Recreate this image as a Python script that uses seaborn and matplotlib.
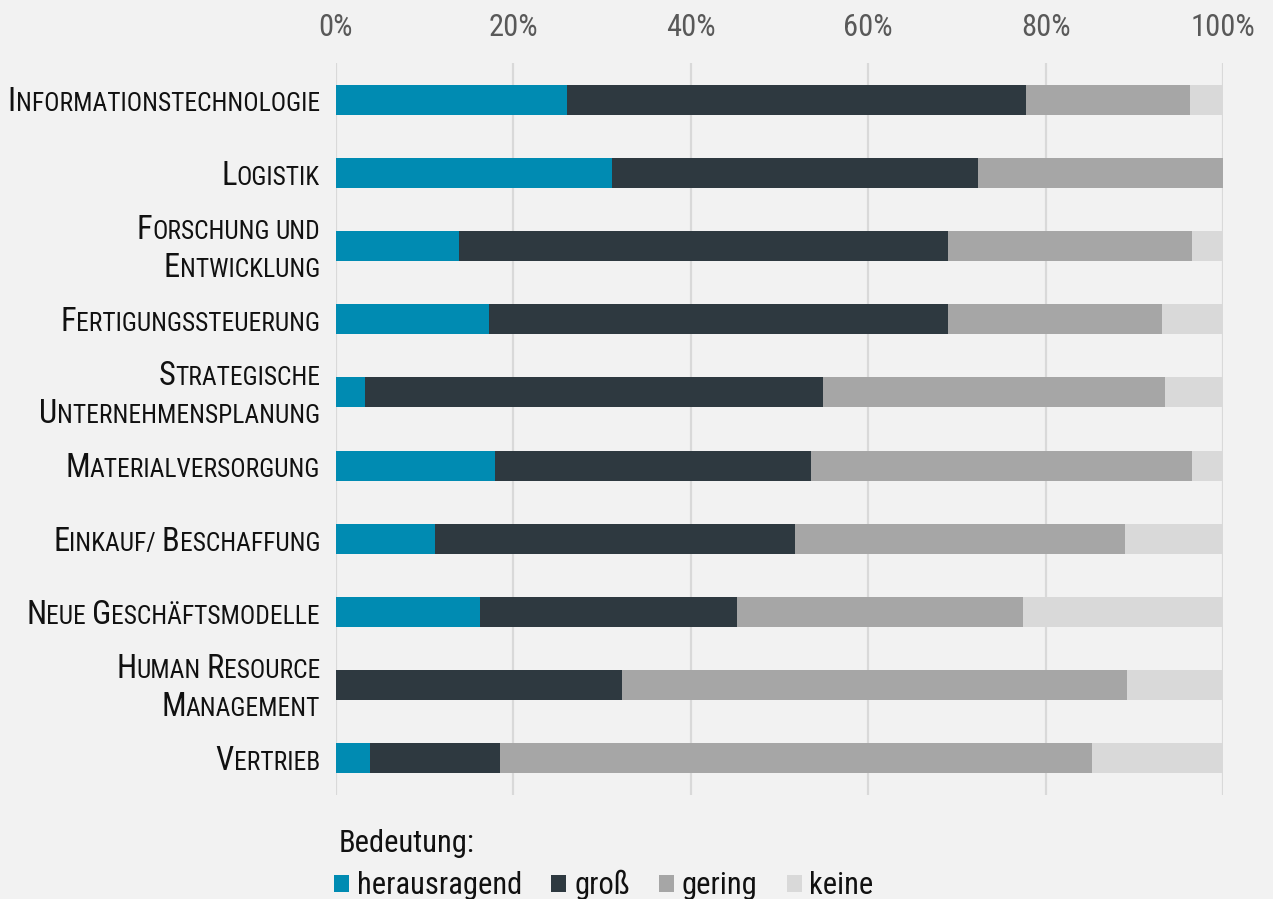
import os
import matplotlib
matplotlib.use("Agg")
import matplotlib.pyplot as plt
import matplotlib.transforms as mtransforms
import matplotlib.font_manager as fm
from matplotlib.patches import Patch
import numpy as np
import pandas as pd
import seaborn as sns

# Unternehmensbereiche (Zeilenumbruch = zweizeiliges Label)
bereiche = [
    "Informationstechnologie",
    "Logistik",
    "Forschung und\nEntwicklung",
    "Fertigungssteuerung",
    "Strategische\nUnternehmensplanung",
    "Materialversorgung",
    "Einkauf/ Beschaffung",
    "Neue Geschäftsmodelle",
    "Human Resource\nManagement",
    "Vertrieb",
]
# Anteile in Prozent je Bedeutungsstufe
herausragend = [26.0, 31.1, 13.9, 17.3, 3.3, 17.9, 11.2, 16.2, 0.0, 3.8]
gross = [51.8, 41.3, 55.1, 51.7, 51.6, 35.7, 40.6, 29.0, 32.2, 14.7]
gering = [18.5, 27.6, 27.5, 24.1, 38.6, 42.9, 37.1, 32.2, 57.0, 66.7]
keine = [3.7, 0.0, 3.5, 6.9, 6.5, 3.5, 11.1, 22.6, 10.8, 14.8]

stufen = ["herausragend", "groß", "gering", "keine"]
farben = ["#008BB2", "#2E3940", "#A6A6A6", "#D9D9D9"]
xticks = [0, 20, 40, 60, 80, 100]
xticklabels = ["0%", "20%", "40%", "60%", "80%", "100%"]
legend_title = "Bedeutung:"

BG = "#F2F2F2"
sns.set_style("white", rc={"axes.facecolor": BG, "figure.facecolor": BG})
plt.rcParams["font.family"] = ["Liberation Sans", "DejaVu Sans"]


# schmale Schrift suchen (Narrow / Condensed, normaler Schnitt)
def find_narrow_font():
    prio = ["liberationsansnarrow", "arialnarrow", "robotocondensed",
            "notosans-condensed", "notosanscondensed", "opensans_condensed",
            "opensanscondensed", "dejavusanscondensed"]
    bad = ["bold", "italic", "light", "medium", "semi", "extra", "black",
           "thin", "oblique", "mono", "display", "ui", "symbols"]
    best = None
    for f in fm.fontManager.ttflist:
        base = os.path.splitext(os.path.basename(f.fname))[0].lower()
        key = base.replace(" ", "").replace("_", "").replace("-regular", "")
        if any(b in base for b in bad):
            continue
        for rank, p in enumerate(prio):
            if key.startswith(p.replace("_", "")) or key == p:
                if best is None or rank < best[0]:
                    best = (rank, f.fname)
    return best[1] if best else None


narrow_path = find_narrow_font()


def fprops(size):
    if narrow_path:
        return fm.FontProperties(fname=narrow_path, size=size)
    return fm.FontProperties(family=["Liberation Sans", "DejaVu Sans"], size=size)


W, H = 1273, 899
fig = plt.figure(figsize=(W / 100, H / 100), dpi=100)
fig.patch.set_facecolor(BG)
ax = fig.add_axes([336 / W, 1 - 795 / H, (1223 - 336) / W, (795 - 63) / H])
ax.set_facecolor(BG)

df = pd.DataFrame({
    "bereich": bereiche,
    stufen[0]: herausragend,
    stufen[1]: gross,
    stufen[2]: gering,
    stufen[3]: keine,
})
kum = df[stufen].cumsum(axis=1)

# gestapelte Balken: kumulierte Summen von hinten nach vorn zeichnen
for i in range(len(stufen) - 1, -1, -1):
    sns.barplot(x=kum[stufen[i]], y=df["bereich"], orient="h", order=bereiche,
                color=farben[i], saturation=1, width=0.41, linewidth=0, ax=ax)

ax.set_xlim(0, 100)
ax.set_xticks(xticks)
ax.set_xticklabels(xticklabels)
ax.xaxis.tick_top()
ax.tick_params(axis="x", length=0, pad=15, labelcolor="#595959")
ax.tick_params(axis="y", length=0)
ax.set_yticklabels([])
ax.set_xlabel("")
ax.set_ylabel("")
ax.grid(axis="x", color="#D9D9D9", linewidth=1.6)
ax.grid(axis="y", visible=False)
ax.set_axisbelow(True)
for s in ax.spines.values():
    s.set_visible(False)

fig.canvas.draw()
renderer = fig.canvas.get_renderer()
ident = mtransforms.IdentityTransform()


def width_of(s, size):
    t = fig.text(0, 0, s, fontproperties=fprops(size), transform=ident)
    w = t.get_window_extent(renderer).width
    t.remove()
    return w


# Schriftgröße so wählen, dass die längste Zeile die Randspalte füllt
BIG, SMALL = 23.0, 18.0
probe = width_of("I", BIG) + width_of("NFORMATIONSTECHNOLOGIE", SMALL)
scale = min(1.1, max(0.6, 311.0 / probe))
BIG *= scale
SMALL *= scale
TXT = 22.0 * min(1.0, max(scale, 0.86))

for lbl in ax.get_xticklabels():
    lbl.set_fontproperties(fprops(TXT))
    lbl.set_color("#595959")

space = width_of("I I", SMALL) - width_of("II", SMALL)


def runs(word):
    pieces = []
    for ch in word:
        big = ch.isupper()
        if pieces and pieces[-1][1] == big:
            pieces[-1][0] += ch.upper()
        else:
            pieces.append([ch.upper(), big])
    return pieces


# Kategorien in Kapitälchen rechtsbündig vor die Balken setzen
right_edge = 320
line_gap = 38
for i, name in enumerate(bereiche):
    yc = ax.transData.transform((0, i))[1]
    lines = name.split("\n")
    n = len(lines)
    for k, line in enumerate(lines):
        center = yc + (n - 1) / 2 * line_gap - k * line_gap
        baseline = center - 0.36 * BIG * 100 / 72
        texts = []
        widths = []
        for w_i, word in enumerate(line.split(" ")):
            if w_i > 0:
                texts.append(None)
                widths.append(space)
            for s, big in runs(word):
                t = fig.text(0, baseline, s, fontproperties=fprops(BIG if big else SMALL),
                             color="#111111", transform=ident,
                             ha="left", va="baseline")
                texts.append(t)
                widths.append(t.get_window_extent(renderer).width)
        x = right_edge - sum(widths)
        for t, w in zip(texts, widths):
            if t is not None:
                t.set_position((x, baseline))
            x += w

# Legende: Titel und eine Zeile mit vier Einträgen
fig.text(339 / W, 1 - 843 / H, legend_title, fontproperties=fprops(TXT),
         color="#111111", ha="left", va="center")
handles = [Patch(facecolor=c, edgecolor="none", label=s) for s, c in zip(stufen, farben)]
leg = fig.legend(handles=handles, loc="center left",
                 bbox_to_anchor=(334 / W, 1 - 885 / H), ncol=4, frameon=False,
                 prop=fprops(TXT),
                 handlelength=0.5, handleheight=0.5, handletextpad=0.25,
                 columnspacing=0.95, borderpad=0, borderaxespad=0, labelspacing=0)
for t in leg.get_texts():
    t.set_color("#111111")

fig.savefig("out.png", dpi=100, facecolor=BG)
